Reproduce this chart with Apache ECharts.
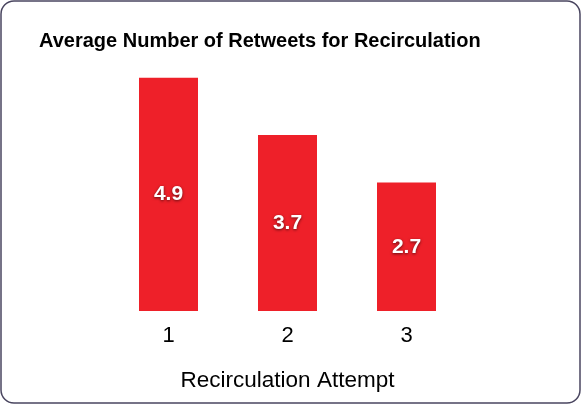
<!DOCTYPE html>
<html>
<head>
<meta charset="utf-8">
<script src="https://cdn.jsdelivr.net/npm/echarts@6/dist/echarts.min.js"></script>
<style>
  html, body { margin: 0; padding: 0; background: #fff; }
  #main { width: 582px; height: 405px; }
</style>
</head>
<body>
<div id="main"></div>
<script>
const chart = echarts.init(document.getElementById("main"));

// Data
const attempts = ["1", "2", "3"];
const avgRetweets = [4.9, 3.7, 2.7];

const barColor = "#ee2029";

const option = {
  animation: false,
  backgroundColor: "#fff",
  title: {
    text: "Average Number of Retweets for Recirculation",
    left: 34,
    top: 26,
    textStyle: {
      fontFamily: "Liberation Sans",
      fontWeight: "bold",
      fontSize: 20,
      color: "#000",
    },
  },
  graphic: [
    {
      type: "rect",
      shape: { x: 1, y: 1, width: 579, height: 402, r: 13 },
      style: { fill: "none", stroke: "#4a4660", lineWidth: 1.5 },
      silent: true,
    },
  ],
  grid: {
    left: 109,
    right: 116,
    top: 73,
    bottom: 94,
  },
  xAxis: {
    type: "category",
    data: attempts,
    name: "Recirculation Attempt",
    nameLocation: "middle",
    nameGap: 58,
    nameTextStyle: {
      fontFamily: "Liberation Sans",
      fontSize: 22.5,
      color: "#000",
    },
    axisLine: { show: false },
    axisTick: { show: false },
    axisLabel: {
      margin: 14,
      fontFamily: "Liberation Sans",
      fontSize: 22,
      color: "#000",
    },
  },
  yAxis: {
    type: "value",
    min: 0,
    max: 5,
    show: false,
  },
  series: [
    {
      type: "bar",
      data: avgRetweets,
      barWidth: 59,
      itemStyle: { color: barColor },
      label: {
        show: true,
        position: "inside",
        fontFamily: "Liberation Sans",
        fontWeight: "bold",
        fontSize: 21,
        color: "#fff",
        textShadowColor: "rgba(0,0,0,0.6)",
        textShadowBlur: 3,
        textShadowOffsetY: 1,
      },
    },
  ],
};

chart.setOption(option);
</script>
</body>
</html>
